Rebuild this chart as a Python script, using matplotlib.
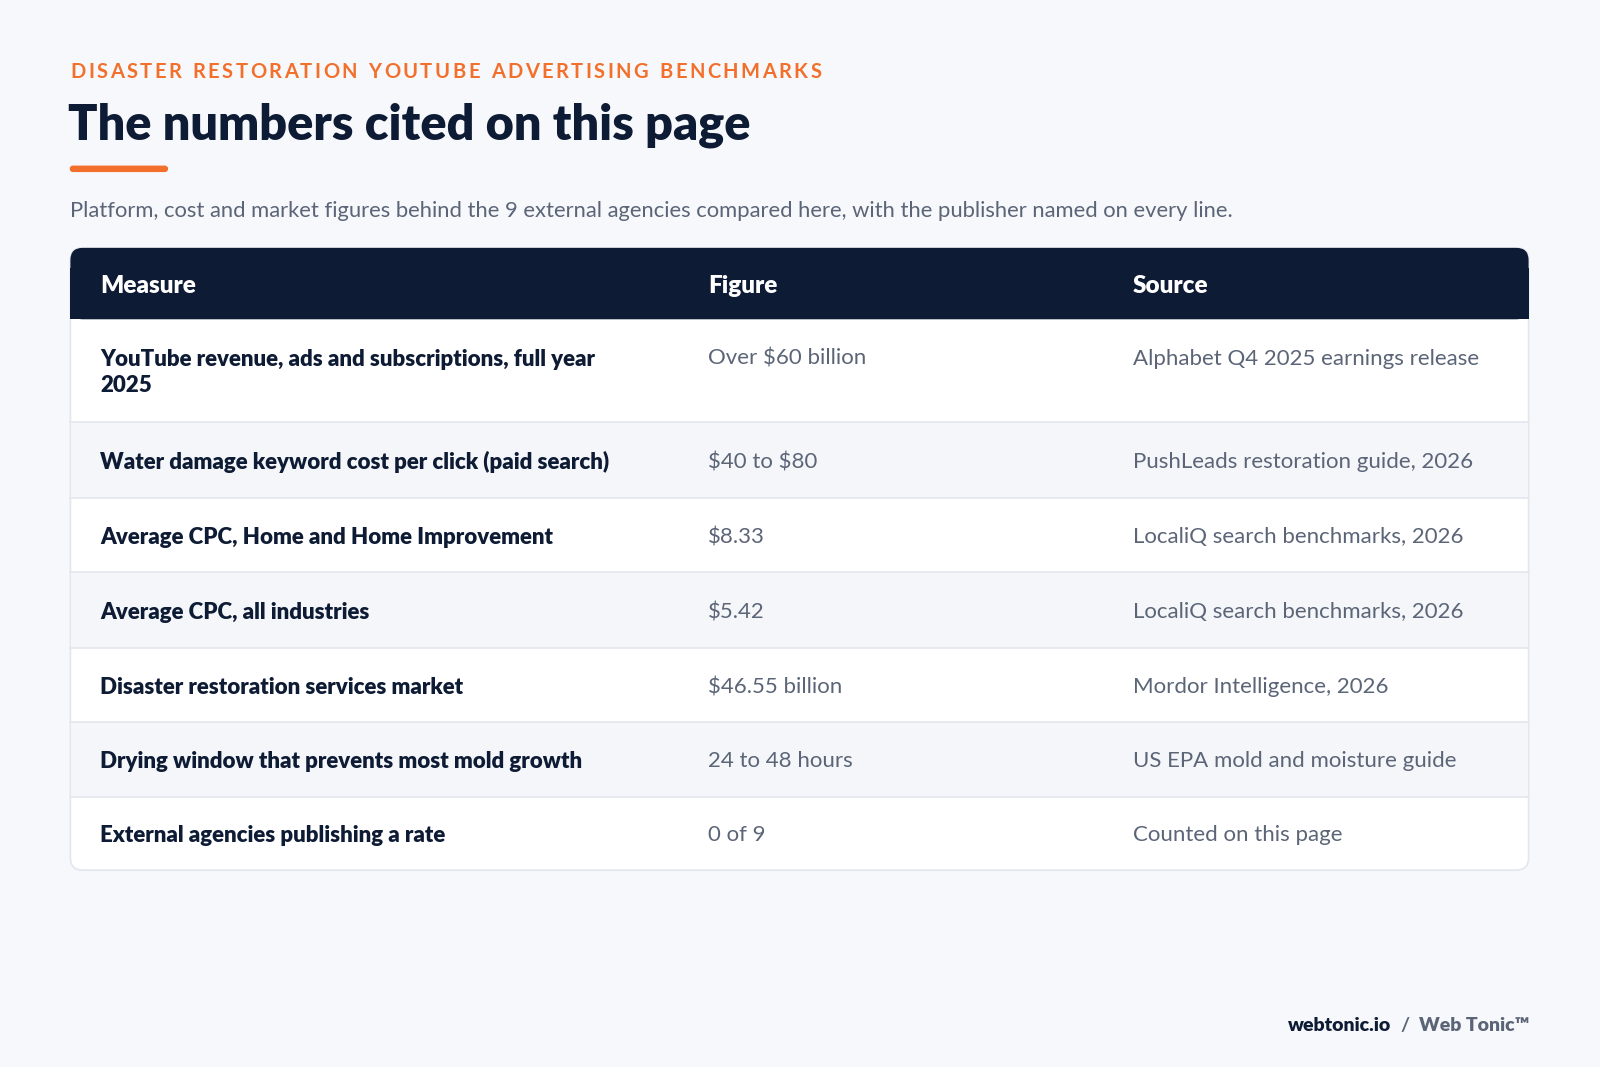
import matplotlib
matplotlib.use("Agg")
import matplotlib.pyplot as plt
from matplotlib.patches import FancyBboxPatch, Rectangle
from matplotlib.font_manager import FontProperties

plt.rcParams['font.family'] = ['Lato', 'DejaVu Sans']
plt.rcParams['text.parse_math'] = False

eyebrow = "DISASTER RESTORATION YOUTUBE ADVERTISING BENCHMARKS"
title = "The numbers cited on this page"
subtitle = "Platform, cost and market figures behind the 9 external agencies compared here, with the publisher named on every line."
headers = ["Measure", "Figure", "Source"]
measures = ["YouTube revenue, ads and subscriptions, full year\n2025",
            "Water damage keyword cost per click (paid search)",
            "Average CPC, Home and Home Improvement",
            "Average CPC, all industries",
            "Disaster restoration services market",
            "Drying window that prevents most mold growth",
            "External agencies publishing a rate"]
figures = ["Over $60 billion", "$40 to $80", "$8.33", "$5.42", "$46.55 billion", "24 to 48 hours", "0 of 9"]
sources = ["Alphabet Q4 2025 earnings release", "PushLeads restoration guide, 2026",
           "LocaliQ search benchmarks, 2026", "LocaliQ search benchmarks, 2026",
           "Mordor Intelligence, 2026", "US EPA mold and moisture guide", "Counted on this page"]
row_edges = [313, 414, 488, 561, 635, 708, 781, 853]

W, H = 1568, 1046
fig = plt.figure(figsize=(16, 10.67), dpi=100)
fig.patch.set_facecolor('#f6f8fb')
ax = fig.add_axes([0, 0, 1, 1])
ax.set_xlim(0, W); ax.set_ylim(H, 0); ax.axis('off')
renderer = fig.canvas.get_renderer()
scale = W / 1600.0

navy = '#0e1b34'; orange = '#f26f2c'; grey = '#5b6577'
L, R, T = 69, 1498, 243

prop = FontProperties(family=['Lato', 'DejaVu Sans'], size=14.5, weight='bold')
x = L
for ch in eyebrow:
    ax.text(x, 71, ch, color=orange, fontproperties=prop, va='center')
    w, _, _ = renderer.get_text_width_height_descent(ch if ch != ' ' else 'n', prop, ismath=False)
    if ch == ' ':
        w = w * 0.55
    x += w * scale + 2.4

ax.text(L - 2, 123, title, color=navy, fontsize=35, fontweight='heavy', va='center')
ax.add_patch(FancyBboxPatch((L, 163), 95, 5, boxstyle="round,pad=0,rounding_size=2.5", color=orange))
ax.text(L, 207, subtitle, color=grey, fontsize=15.8, va='center')

ax.add_patch(FancyBboxPatch((L, T), R - L, row_edges[-1] - T, boxstyle="round,pad=0,rounding_size=12",
                            facecolor='white', edgecolor='#e2e6ed', lw=1.2))
ax.add_patch(FancyBboxPatch((L, T), R - L, 70, boxstyle="round,pad=0,rounding_size=12", color=navy, lw=0))
ax.add_patch(Rectangle((L - 0.6, T + 20), R - L + 1.2, row_edges[0] - T - 20, color=navy, lw=0))
cols = [98, 694, 1110]
for c, h in zip(cols, headers):
    ax.text(c, (T + row_edges[0]) / 2 + 2, h, color='white', fontsize=17.5, fontweight='heavy', va='center')
for i in range(len(measures)):
    y0, y1 = row_edges[i], row_edges[i + 1]
    if i % 2 == 1:
        ax.add_patch(Rectangle((L + 0.7, y0), R - L - 1.4, y1 - y0, color='#f4f6f9', lw=0))
    if i > 0:
        ax.plot([L, R], [y0, y0], color='#e3e7ee', lw=1.2)
        ty, va = (y0 + y1) / 2 + 2, 'center'
    else:
        ty, va = y0 + 29, 'top'
    ax.text(cols[0], ty, measures[i], color=navy, fontsize=16, fontweight='heavy', va=va, linespacing=1.3)
    ax.text(cols[1], ty, figures[i], color=grey, fontsize=16, va=va)
    ax.text(cols[2], ty, sources[i], color=grey, fontsize=16, va=va)

ax.text(1363, 1005, "webtonic.io", color=navy, fontsize=14, fontweight='heavy', va='center', ha='right')
ax.text(1377, 1005, "/", color=grey, fontsize=14, fontweight='bold', va='center', ha='center')
ax.text(1391, 1005, "Web Tonic™", color=grey, fontsize=14, fontweight='heavy', va='center', ha='left')

fig.savefig("out.png", dpi=100, facecolor=fig.get_facecolor())
